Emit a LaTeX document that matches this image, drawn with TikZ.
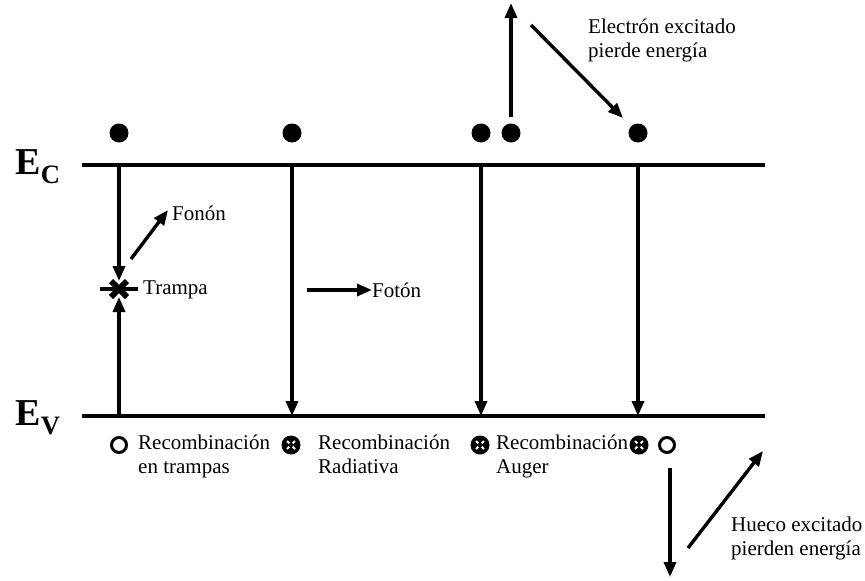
\documentclass[tikz,border=0pt]{standalone}
\usepackage{fontspec}
\setmainfont{Liberation Serif}
\usetikzlibrary{arrows.meta}
\begin{document}
\begin{tikzpicture}[x=1pt,y=-1pt,
  band/.style={line width=4.5pt},
  arr/.style={line width=3.4pt,-{Triangle[length=15pt,width=12pt]}},
  elec/.style={circle,fill=black,inner sep=0pt,minimum size=19pt},
  hole/.style={circle,draw=black,line width=3pt,inner sep=0pt,minimum size=15pt},
  rec/.style={circle,fill=black,inner sep=0pt,minimum size=19pt,
    path picture={\draw[white,line width=1.8pt]
      ([shift={(-4pt,-4pt)}]path picture bounding box.center) -- ([shift={(4pt,4pt)}]path picture bounding box.center)
      ([shift={(-4pt,4pt)}]path picture bounding box.center) -- ([shift={(4pt,-4pt)}]path picture bounding box.center);
      \fill[black] (path picture bounding box.center) circle (2.3pt);}},
  lbl/.style={font=\fontsize{21}{24}\selectfont,inner sep=0pt,align=left},
  big/.style={font=\fontsize{38}{40}\selectfont\bfseries,inner sep=0pt}]
\useasboundingbox (0,0) rectangle (865,581);
% bands
\coordinate (ecL) at (82,165); \coordinate (ecR) at (765,165);
\coordinate (evL) at (82,416); \coordinate (evR) at (765,416);
\draw[band] (ecL) -- (ecR);
\draw[band] (evL) -- (evR);
\node[big] (EC) at (38,167) {E\textsubscript{C}};
\node[big] (EV) at (38,418) {E\textsubscript{V}};
% electrons
\node[elec] (e1) at (119,133) {};
\node[elec] (e2) at (292,133) {};
\node[elec] (e3) at (481,133) {};
\node[elec] (e4) at (511,133) {};
\node[elec] (e5) at (638,133) {};
% band coordinates for transitions
\coordinate (c1) at (119,165); \coordinate (v1) at (119,416);
\coordinate (c2) at (292,165); \coordinate (v2) at (292,416);
\coordinate (c3) at (481,165); \coordinate (v3) at (481,416);
\coordinate (c4) at (638,165); \coordinate (v4) at (638,416);
% trap
\coordinate (trap) at (119,289);
\coordinate (trapT) at (119,281);
\coordinate (trapB) at (119,297);
\draw[line width=3.4pt] (100,289) -- (138,289);
\draw[line width=6pt] (111,281) -- (127,297) (111,297) -- (127,281);
\node[lbl,anchor=west] (trampa) at (143,290) {Trampa};
\draw[arr] (c1) -- (trapT);
\draw[arr] (v1) -- (trapB);
% phonon
\coordinate (fo1) at (131,259);
\coordinate (fo2) at (168,210);
\draw[arr] (fo1) -- (fo2);
\node[lbl,anchor=west] (fonon) at (172,213) {Fonón};
% radiative
\draw[arr] (c2) -- (v2);
\coordinate (ph1) at (307,290);
\coordinate (ph2) at (372,290);
\draw[arr] (ph1) -- (ph2);
\node[lbl,anchor=west] (foton) at (372,290) {Fotón};
% auger
\draw[arr] (c3) -- (v3);
\draw[arr] (c4) -- (v4);
\coordinate (up1) at (511,117);
\coordinate (up2) at (511,3);
\draw[arr] (up1) -- (up2);
\coordinate (d1) at (531,25);
\coordinate (d2) at (623,118);
\draw[arr] (d1) -- (d2);
\node[lbl,anchor=north west,align=left] (elab) at (588,19) {Electrón excitado\\pierde energía};
% holes / recombination markers
\node[hole] (h1) at (119,445) {};
\node[rec] (r2) at (291,445) {};
\node[rec] (r3) at (480,445) {};
\node[rec] (r4) at (639,445) {};
\node[hole] (h5) at (667,445) {};
\node[lbl,anchor=north west] (t1) at (138,435) {Recombinación\\en trampas};
\node[lbl,anchor=north west] (t2) at (318,435) {Recombinación\\Radiativa};
\node[lbl,anchor=north west] (t3) at (496,435) {Recombinación\\Auger};
% hole excitation
\coordinate (hd1) at (670,468);
\coordinate (hd2) at (670,577);
\draw[arr] (hd1) -- (hd2);
\coordinate (hu1) at (688,548);
\coordinate (hu2) at (763,451);
\draw[arr] (hu1) -- (hu2);
\node[lbl,anchor=north west] (hlab) at (731,517) {Hueco excitado\\pierden energía};
\end{tikzpicture}
\end{document}
